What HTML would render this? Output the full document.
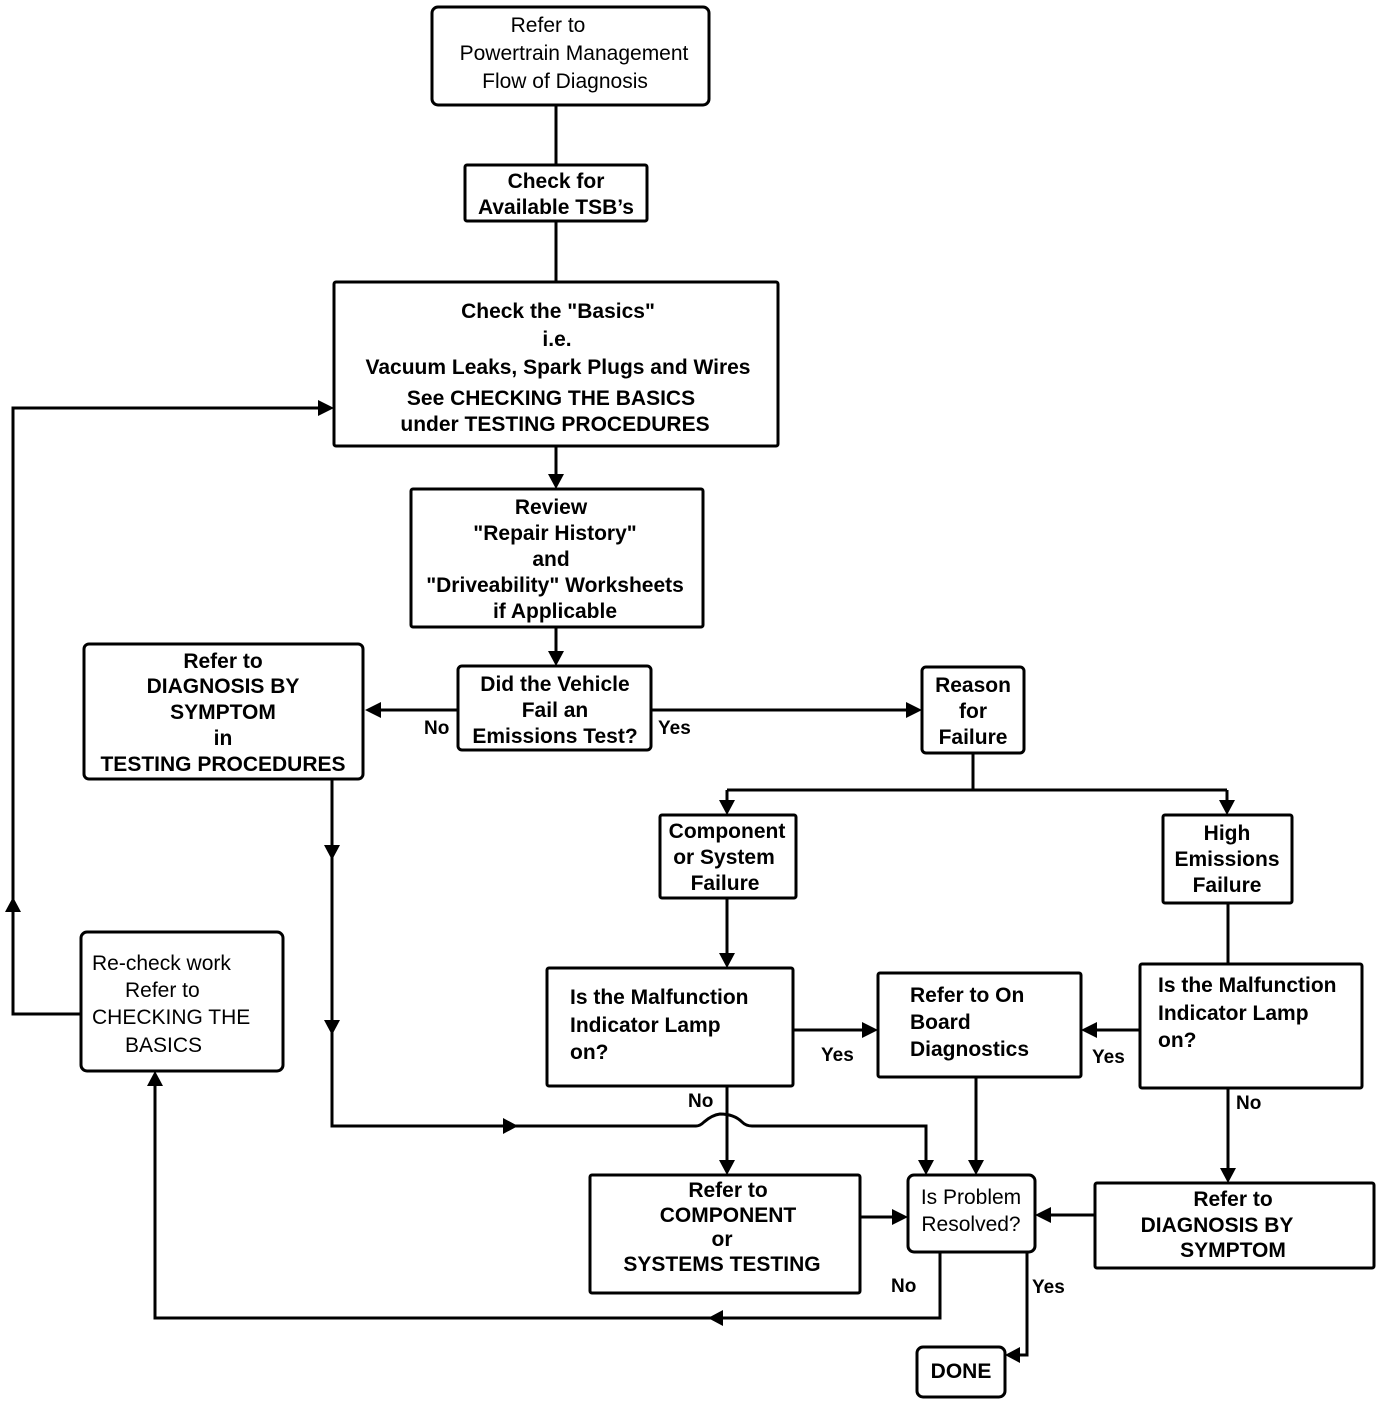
<!DOCTYPE html>
<html><head><meta charset="utf-8"><style>
html,body{margin:0;padding:0;background:#fff;}
svg{display:block;}
text{font-family:"Liberation Sans",Arial,sans-serif;font-size:21px;fill:#000;}
.b{font-weight:bold;}
</style></head><body>
<svg width="1392" height="1406" viewBox="0 0 1392 1406" xmlns="http://www.w3.org/2000/svg">
<g fill="none" stroke="#000" stroke-width="3">
<rect x="432" y="7" width="277" height="98" rx="6"/>
<rect x="465" y="165" width="182" height="56" rx="2"/>
<rect x="334" y="282" width="444" height="164" rx="2"/>
<rect x="411" y="489" width="292" height="138" rx="2"/>
<rect x="458" y="666" width="193" height="84" rx="4"/>
<rect x="922" y="667" width="102" height="86" rx="4"/>
<rect x="660" y="815" width="136" height="83" rx="2"/>
<rect x="1163" y="815" width="129" height="88" rx="2"/>
<rect x="547" y="968" width="246" height="118" rx="2"/>
<rect x="878" y="973" width="203" height="104" rx="2"/>
<rect x="1140" y="964" width="222" height="124" rx="2"/>
<rect x="590" y="1175" width="270" height="118" rx="2"/>
<rect x="908" y="1175" width="127" height="77" rx="6"/>
<rect x="1095" y="1183" width="279" height="85" rx="2"/>
<rect x="84" y="644" width="279" height="135" rx="5"/>
<rect x="81" y="932" width="202" height="139" rx="6"/>
<rect x="917" y="1347" width="88" height="50" rx="6"/>
<!-- connectors -->
<path d="M556 105V165M556 221V282M556 446V480M556 627V658"/>
<path d="M458 710H375M651 710H912"/>
<path d="M973 753V790M727 790H1227M727 790V806M1227 790V806"/>
<path d="M727 898V958M1228 903V964"/>
<path d="M793 1030H866M1140 1030H1093"/>
<path d="M727 1086V1165M1228 1088V1173M976 1077V1165"/>
<path d="M860 1217H896M1095 1215H1047"/>
<path d="M332 779V1126H696Q700 1126 704 1122Q712 1115 720 1114Q734 1114 742 1122Q746 1126 752 1126H926V1165"/>
<path d="M81 1014H13V408H324"/>
<path d="M940 1252V1318H155V1081"/>
<path d="M1027 1252V1355H1015"/>
</g>
<g fill="#000">
<polygon points="548,474 564,474 556,489"/>
<polygon points="548,651 564,651 556,666"/>
<polygon points="365,710 381,702 381,718"/>
<polygon points="922,710 906,702 906,718"/>
<polygon points="719,800 735,800 727,815"/>
<polygon points="1219,800 1235,800 1227,815"/>
<polygon points="719,953 735,953 727,968"/>
<polygon points="878,1030 862,1022 862,1038"/>
<polygon points="1081,1030 1097,1022 1097,1038"/>
<polygon points="719,1160 735,1160 727,1175"/>
<polygon points="1220,1168 1236,1168 1228,1183"/>
<polygon points="968,1160 984,1160 976,1175"/>
<polygon points="918,1160 934,1160 926,1175"/>
<polygon points="908,1217 892,1209 892,1225"/>
<polygon points="1035,1215 1051,1207 1051,1223"/>
<polygon points="324,845 340,845 332,860"/>
<polygon points="324,1020 340,1020 332,1035"/>
<polygon points="518,1126 503,1118 503,1134"/>
<polygon points="5,912 21,912 13,897"/>
<polygon points="334,408 318,400 318,416"/>
<polygon points="708,1318 723,1310 723,1326"/>
<polygon points="155,1071 147,1086 163,1086"/>
<polygon points="1005,1355 1020,1347 1020,1363"/>
</g>
<g text-anchor="middle">
<text x="548" y="32">Refer to</text>
<text x="574" y="60">Powertrain Management</text>
<text x="565" y="88">Flow of Diagnosis</text>
<g class="b">
<text class="b" x="556" y="188">Check for</text>
<text class="b" x="556" y="214">Available TSB’s</text>
<text class="b" x="558" y="318">Check the "Basics"</text>
<text class="b" x="557" y="346">i.e.</text>
<text class="b" x="558" y="374">Vacuum Leaks, Spark Plugs and Wires</text>
<text class="b" x="551" y="405">See CHECKING THE BASICS</text>
<text class="b" x="555" y="431">under TESTING PROCEDURES</text>
<text class="b" x="551" y="514">Review</text>
<text class="b" x="555" y="540">"Repair History"</text>
<text class="b" x="551" y="566">and</text>
<text class="b" x="555" y="592">"Driveability" Worksheets</text>
<text class="b" x="555" y="618">if Applicable</text>
<text class="b" x="555" y="691">Did the Vehicle</text>
<text class="b" x="555" y="717">Fail an</text>
<text class="b" x="555" y="743">Emissions Test?</text>
<text class="b" x="973" y="692">Reason</text>
<text class="b" x="973" y="718">for</text>
<text class="b" x="973" y="744">Failure</text>
<text class="b" x="727" y="838">Component</text>
<text class="b" x="724" y="864">or System</text>
<text class="b" x="725" y="890">Failure</text>
<text class="b" x="1227" y="840">High</text>
<text class="b" x="1227" y="866">Emissions</text>
<text class="b" x="1227" y="892">Failure</text>
<text class="b" x="728" y="1197">Refer to</text>
<text class="b" x="728" y="1222">COMPONENT</text>
<text class="b" x="722" y="1246">or</text>
<text class="b" x="722" y="1271">SYSTEMS TESTING</text>
<text class="b" x="1233" y="1206">Refer to</text>
<text class="b" x="1217" y="1232">DIAGNOSIS  BY</text>
<text class="b" x="1233" y="1257">SYMPTOM</text>
<text class="b" x="223" y="668">Refer to</text>
<text class="b" x="223" y="693">DIAGNOSIS BY</text>
<text class="b" x="223" y="719">SYMPTOM</text>
<text class="b" x="223" y="745">in</text>
<text class="b" x="223" y="771">TESTING PROCEDURES</text>
<text class="b" x="961" y="1378">DONE</text>
</g>
<text x="971" y="1204">Is Problem</text>
<text x="971" y="1231">Resolved?</text>
</g>
<g class="b">
<text class="b" x="570" y="1004">Is the Malfunction</text>
<text class="b" x="570" y="1032">Indicator Lamp</text>
<text class="b" x="570" y="1059">on?</text>
<text class="b" x="910" y="1002">Refer to On</text>
<text class="b" x="910" y="1029">Board</text>
<text class="b" x="910" y="1056">Diagnostics</text>
<text class="b" x="1158" y="992">Is the Malfunction</text>
<text class="b" x="1158" y="1020">Indicator Lamp</text>
<text class="b" x="1158" y="1047">on?</text>
<text class="b" x="424" y="734" style="font-size:19px">No</text>
<text class="b" x="658" y="734" style="font-size:19px">Yes</text>
<text class="b" x="821" y="1061" style="font-size:19px">Yes</text>
<text class="b" x="1092" y="1063" style="font-size:19px">Yes</text>
<text class="b" x="688" y="1107" style="font-size:19px">No</text>
<text class="b" x="1236" y="1109" style="font-size:19px">No</text>
<text class="b" x="891" y="1292" style="font-size:19px">No</text>
<text class="b" x="1032" y="1293" style="font-size:19px">Yes</text>
</g>
<text x="92" y="970">Re-check work</text>
<text x="125" y="997">Refer to</text>
<text x="92" y="1024">CHECKING THE</text>
<text x="125" y="1052">BASICS</text>
</svg>
</body></html>
